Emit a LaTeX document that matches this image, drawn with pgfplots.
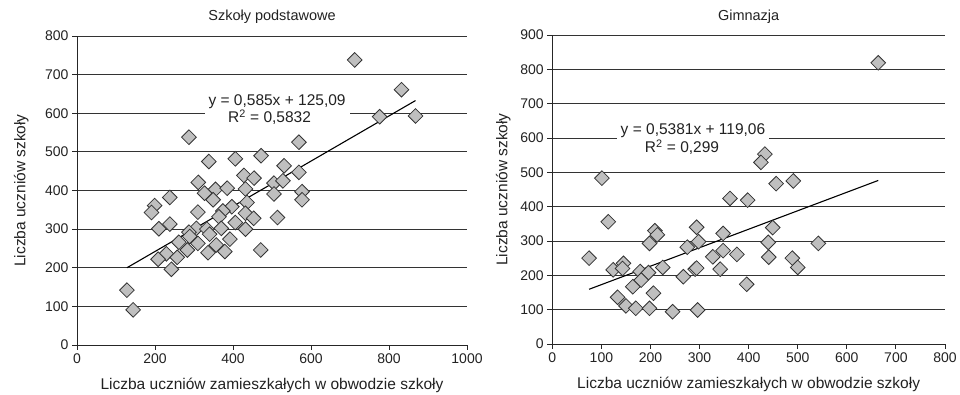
\documentclass[border=0pt]{standalone}
\usepackage{fontspec}
\setmainfont{Liberation Sans}
\usepackage{pgfplots}
\pgfplotsset{compat=1.18}
\definecolor{markgray}{HTML}{BFBFBF}
\definecolor{txt}{HTML}{222222}
\begin{document}
\begin{tikzpicture}[x=1pt,y=1pt]
\path[use as bounding box] (0,0) rectangle (960,395);
\pgfplotsset{
  myax/.style={
    scale only axis,
    anchor=south west,
    axis x line*=bottom, axis y line*=left,
    tick align=outside,
    major tick length=5pt,
    ymajorgrids,
    grid style={black!80, line width=0.9pt},
    axis line style={black!85, line width=0.9pt, -},
    tick style={black!85, line width=0.9pt},
    tick label style={font=\fontsize{14}{16}\selectfont, text=txt},
    label style={font=\fontsize{15.5}{17}\selectfont, text=txt},
    xlabel style={at={(axis description cs:0.5,0)}, anchor=base, yshift=-45pt},
    title style={font=\fontsize{14.5}{16}\selectfont, text=txt, at={(axis description cs:0.5,1)}, anchor=base, yshift=9pt},
    /pgf/number format/assume math mode=true,
    /pgf/number format/1000 sep={},
    clip=false,
  },
  pts/.style={only marks, mark=square*, mark size=5.2pt, mark options={rotate=45, fill=markgray, draw=black!80, line width=0.8pt}},
  trend/.style={black, line width=1.1pt, no marks},
}
% ---------------- left ----------------
\begin{axis}[myax, at={(77pt,50pt)}, width=390pt, height=309pt,
  xmin=0, xmax=1000, ymin=0, ymax=800,
  xtick={0,200,...,1000}, ytick={0,100,...,800},
  title={Szkoły podstawowe},
  xlabel={Liczba uczniów zamieszkałych w obwodzie szkoły},
  ylabel={Liczba uczniów szkoły},
  ylabel style={at={(axis description cs:-0.1426,0.5)}, anchor=center}]
\addplot[pts] coordinates {
(712,738) (832,661) (776,591) (868,593) (569,525) (472,490) (531,464) (569,447)
(505,419) (528,425) (577,397) (577,376) (505,391) (514,330) (287,538) (338,475)
(406,482) (311,421) (428,439) (454,432) (355,403) (385,406) (432,404) (327,393)
(349,376) (199,361) (238,382) (191,343) (310,344) (436,369) (397,358) (374,347)
(364,332) (432,341) (453,328) (406,317) (432,300) (210,301) (238,313) (306,302)
(333,300) (370,302) (287,292) (289,281) (340,287) (261,266) (310,263) (392,274)
(357,259) (283,246) (336,239) (379,242) (471,246) (229,236) (208,222) (257,227)
(242,196) (128,142) (144,91)
};
\addplot[trend] coordinates {(128,199.97) (868,632.87)};
\node[fill=white, align=center, inner xsep=4pt, inner ysep=1pt, font=\fontsize{15.5}{17}\selectfont, text=txt]
  at (axis cs:513,609) {y = 0,585x + 125,09\\R\textsuperscript{2} = 0,5832\hspace*{15pt}};
\end{axis}
% ---------------- right ----------------
\begin{axis}[myax, at={(552.3pt,51pt)}, width=392.7pt, height=309pt,
  xmin=0, xmax=800, ymin=0, ymax=900,
  xtick={0,100,...,800}, ytick={0,100,...,900},
  title={Gimnazja},
  xlabel={Liczba uczniów zamieszkałych w obwodzie szkoły},
  ylabel={Liczba uczniów szkoły},
  ylabel style={at={(axis description cs:-0.1248,0.5)}, anchor=center}]
\addplot[pts] coordinates {
(664,819) (433,553) (425,529) (456,467) (491,475) (101,483) (362,424) (398,419)
(114,356) (209,330) (214,318) (198,293) (294,340) (298,298) (275,282) (348,322)
(348,272) (327,254) (376,261) (342,218) (396,174) (75,250) (145,235) (124,216)
(143,220) (179,211) (196,208) (225,223) (291,218) (294,221) (267,196) (181,186)
(164,167) (206,148) (133,136) (150,111) (170,104) (198,104) (245,94) (296,99)
(449,339) (440,296) (542,293) (441,253) (489,250) (500,223)
};
\addplot[trend] coordinates {(75,159.42) (664,476.36)};
\node[fill=white, align=center, inner xsep=4pt, inner ysep=1pt, font=\fontsize{15.5}{18}\selectfont, text=txt]
  at (axis cs:286.6,596.6) {y = 0,5381x + 119,06\\R\textsuperscript{2} = 0,299\hspace*{22pt}};
\end{axis}
\end{tikzpicture}
\end{document}
